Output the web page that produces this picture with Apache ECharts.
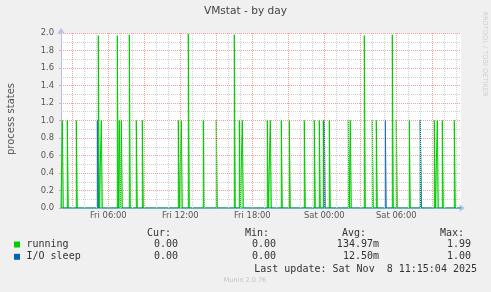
<!DOCTYPE html>
<html><head><meta charset="utf-8">
<script src="https://cdn.jsdelivr.net/npm/echarts@6/dist/echarts.min.js"></script>
<style>html,body{margin:0;padding:0;background:#f0f0f0}#c{width:491px;height:292px}</style>
</head><body><div id="c"></div>
<script>
// ---------- data ----------
const chartTitle = 'VMstat - by day';
const yAxisTitle = 'process states';
const xTickLabels = ['Fri 06:00', 'Fri 12:00', 'Fri 18:00', 'Sat 00:00', 'Sat 06:00'];
const viewStart = 'Fri 02:03:30';
const viewEnd = 'Sat 11:23:30';
const sampleMinutes = 5;
const seriesNames = ['running', 'I/O sleep'];
const seriesColors = ['#00cc00', '#0066b3'];
// [sample time, value] for every non-zero 5-minute sample (all others are 0)
const runningSpikes = [
  ['Fri 02:10', 1], ['Fri 02:35', 1], ['Fri 03:20', 1], ['Fri 05:10', 1.97], ['Fri 05:25', 1],
  ['Fri 06:45', 1.97], ['Fri 06:55', 1], ['Fri 07:05', 1], ['Fri 07:45', 1.98], ['Fri 08:20', 1],
  ['Fri 08:50', 1], ['Fri 11:50', 1], ['Fri 12:05', 1], ['Fri 12:40', 1.99], ['Fri 13:55', 1],
  ['Fri 15:00', 1], ['Fri 16:30', 1.98], ['Fri 16:55', 1], ['Fri 17:10', 1], ['Fri 19:15', 1],
  ['Fri 19:30', 1], ['Fri 20:25', 1], ['Fri 21:05', 1], ['Fri 22:20', 1], ['Fri 23:10', 1],
  ['Fri 23:35', 1], ['Fri 23:55', 1], ['Sat 00:25', 1], ['Sat 02:00', 1], ['Sat 02:10', 1],
  ['Sat 03:20', 1.97], ['Sat 04:00', 1], ['Sat 04:20', 1], ['Sat 05:40', 1.98], ['Sat 06:00', 1],
  ['Sat 07:05', 1], ['Sat 08:00', 1], ['Sat 09:10', 1], ['Sat 09:25', 1], ['Sat 09:50', 1],
  ['Sat 10:50', 1]
];
const ioSleepSpikes = [
  ['Fri 05:05', 1], ['Sat 00:00', 1], ['Sat 05:05', 1], ['Sat 08:00', 1]
];
const statHeaders = ['Cur:', 'Min:', 'Avg:', 'Max:'];
const runningStats = ['0.00', '0.00', '134.97m', '1.99'];
const ioSleepStats = ['0.00', '0.00', '12.50m', '1.00'];
const lastUpdate = 'Last update: Sat Nov  8 11:15:04 2025';
const footerText = 'Munin 2.0.76';
const watermarkText = 'RRDTOOL / TOBI OETIKER';

// ---------- helpers ----------
function toHours(s) {
  const [d, hm] = s.split(' ');
  const p = hm.split(':').map(Number);
  return (d === 'Sat' ? 24 : 0) + p[0] + p[1] / 60 + (p[2] || 0) / 3600;
}
const xMin = toHours(viewStart), xMax = toHours(viewEnd);
const step = sampleMinutes / 60;
function buildSeries(spikes) {
  const pts = [[xMin, 0]];
  spikes.map(([t, v]) => [toHours(t), v]).sort((a, b) => a[0] - b[0])
    .forEach(([h, v]) => { pts.push([h, 0], [h, v], [h + step, 0]); });
  pts.push([xMax, 0]);
  return pts;
}
const labelHours = xTickLabels.map(toHours);
const majorLines = [], minorLines = [];
for (let h = Math.ceil(xMin); h <= xMax; h++) {
  (h % 3 === 0 ? majorLines : minorLines).push({ xAxis: h });
}

const mono = 'DejaVu Sans Mono';
const textColor = '#333';
const majorColor = '#f4a0a0';
const minorColor = '#d2d2d2';
const colRight = [[171, 178], [269, 276], [366, 379], [464, 471]];
const graphics = [];
graphics.push({ type: 'text', left: 'center', top: 6, style: { text: chartTitle, font: '10.6px "DejaVu Sans"', fill: '#444' } });
graphics.push({ type: 'text', x: 11, y: 119, rotation: Math.PI / 2,
  style: { text: yAxisTitle, font: '10px "DejaVu Sans"', fill: '#555', align: 'center', verticalAlign: 'middle' } });
graphics.push({ type: 'text', x: 485, y: 54, rotation: -Math.PI / 2,
  style: { text: watermarkText, font: '6.6px "DejaVu Sans"', fill: '#cfcfcf', align: 'center', verticalAlign: 'middle' } });
statHeaders.forEach((h, i) => graphics.push({ type: 'text', x: colRight[i][0], y: 233,
  style: { text: h, font: '10px "' + mono + '"', fill: textColor, align: 'right', verticalAlign: 'middle' } }));
[runningStats, ioSleepStats].forEach((row, r) => {
  const y = 244.5 + r * 12.3;
  graphics.push({ type: 'rect', shape: { x: 14, y: y - 3, width: 6, height: 6 }, style: { fill: seriesColors[r] } });
  graphics.push({ type: 'text', x: 26.5, y: y,
    style: { text: seriesNames[r], font: '10px "' + mono + '"', fill: textColor, verticalAlign: 'middle' } });
  row.forEach((v, i) => graphics.push({ type: 'text', x: colRight[i][1], y: y,
    style: { text: v, font: '10px "' + mono + '"', fill: textColor, align: 'right', verticalAlign: 'middle' } }));
});
graphics.push({ type: 'text', x: 477, y: 269,
  style: { text: lastUpdate, font: '10px "' + mono + '"', fill: textColor, align: 'right', verticalAlign: 'middle' } });
graphics.push({ type: 'text', x: 245, y: 280.5,
  style: { text: footerText, font: '6.5px "DejaVu Sans"', fill: '#c4c4c4', align: 'center', verticalAlign: 'middle' } });

const chart = echarts.init(document.getElementById('c'), null, { renderer: 'canvas' });
chart.setOption({
  animation: false,
  backgroundColor: '#f0f0f0',
  grid: { left: 61, right: 30, top: 33, bottom: 84, show: true, backgroundColor: '#ffffff', borderWidth: 0 },
  xAxis: {
    type: 'value', min: xMin, max: xMax,
    axisLine: { show: true, lineStyle: { color: '#b8bff0', width: 1 }, symbol: ['none', 'arrow'], symbolSize: [6, 6], symbolOffset: [0, 4] },
    axisTick: { show: false },
    splitLine: { show: false },
    axisLabel: {
      customValues: labelHours, margin: 4, color: '#555', fontFamily: 'DejaVu Sans', fontSize: 8.4,
      formatter: v => xTickLabels[labelHours.findIndex(h => Math.abs(h - v) < 1e-6)] || ''
    }
  },
  yAxis: {
    type: 'value', min: 0, max: 2, interval: 0.2,
    axisLine: { show: true, lineStyle: { color: '#b8bff0', width: 1 }, symbol: ['none', 'arrow'], symbolSize: [6, 6], symbolOffset: [0, 5] },
    axisTick: { show: true, length: 2, lineStyle: { color: majorColor } },
    axisLabel: { margin: 7, color: '#555', fontFamily: 'DejaVu Sans', fontSize: 8.4, formatter: v => v.toFixed(1) },
    splitLine: { show: true, lineStyle: { color: majorColor, width: 1, type: [1, 1] } },
    minorTick: { show: false, splitNumber: 2 },
    minorSplitLine: { show: true, lineStyle: { color: minorColor, width: 1, type: [1, 1] } }
  },
  series: [
    {
      type: 'line', data: [], z: 1, silent: true,
      markLine: { silent: true, symbol: ['none', 'none'], label: { show: false },
        lineStyle: { color: minorColor, width: 1, type: [1, 1] }, data: minorLines }
    },
    {
      type: 'line', data: [], z: 1, silent: true,
      markLine: { silent: true, symbol: ['none', 'none'], label: { show: false },
        lineStyle: { color: majorColor, width: 1, type: [1, 1] }, data: majorLines }
    },
    {
      name: seriesNames[0], type: 'line', data: buildSeries(runningSpikes), z: 3,
      symbol: 'none', lineStyle: { color: seriesColors[0], width: 1 },
      areaStyle: { color: 'rgba(0,204,0,0.45)' }
    },
    {
      name: seriesNames[1], type: 'line', data: buildSeries(ioSleepSpikes), z: 4,
      symbol: 'none', lineStyle: { color: seriesColors[1], width: 1, opacity: 0.8 },
      areaStyle: { color: 'rgba(0,102,179,0.45)' }
    }
  ],
  graphic: graphics
});
</script>
</body></html>
